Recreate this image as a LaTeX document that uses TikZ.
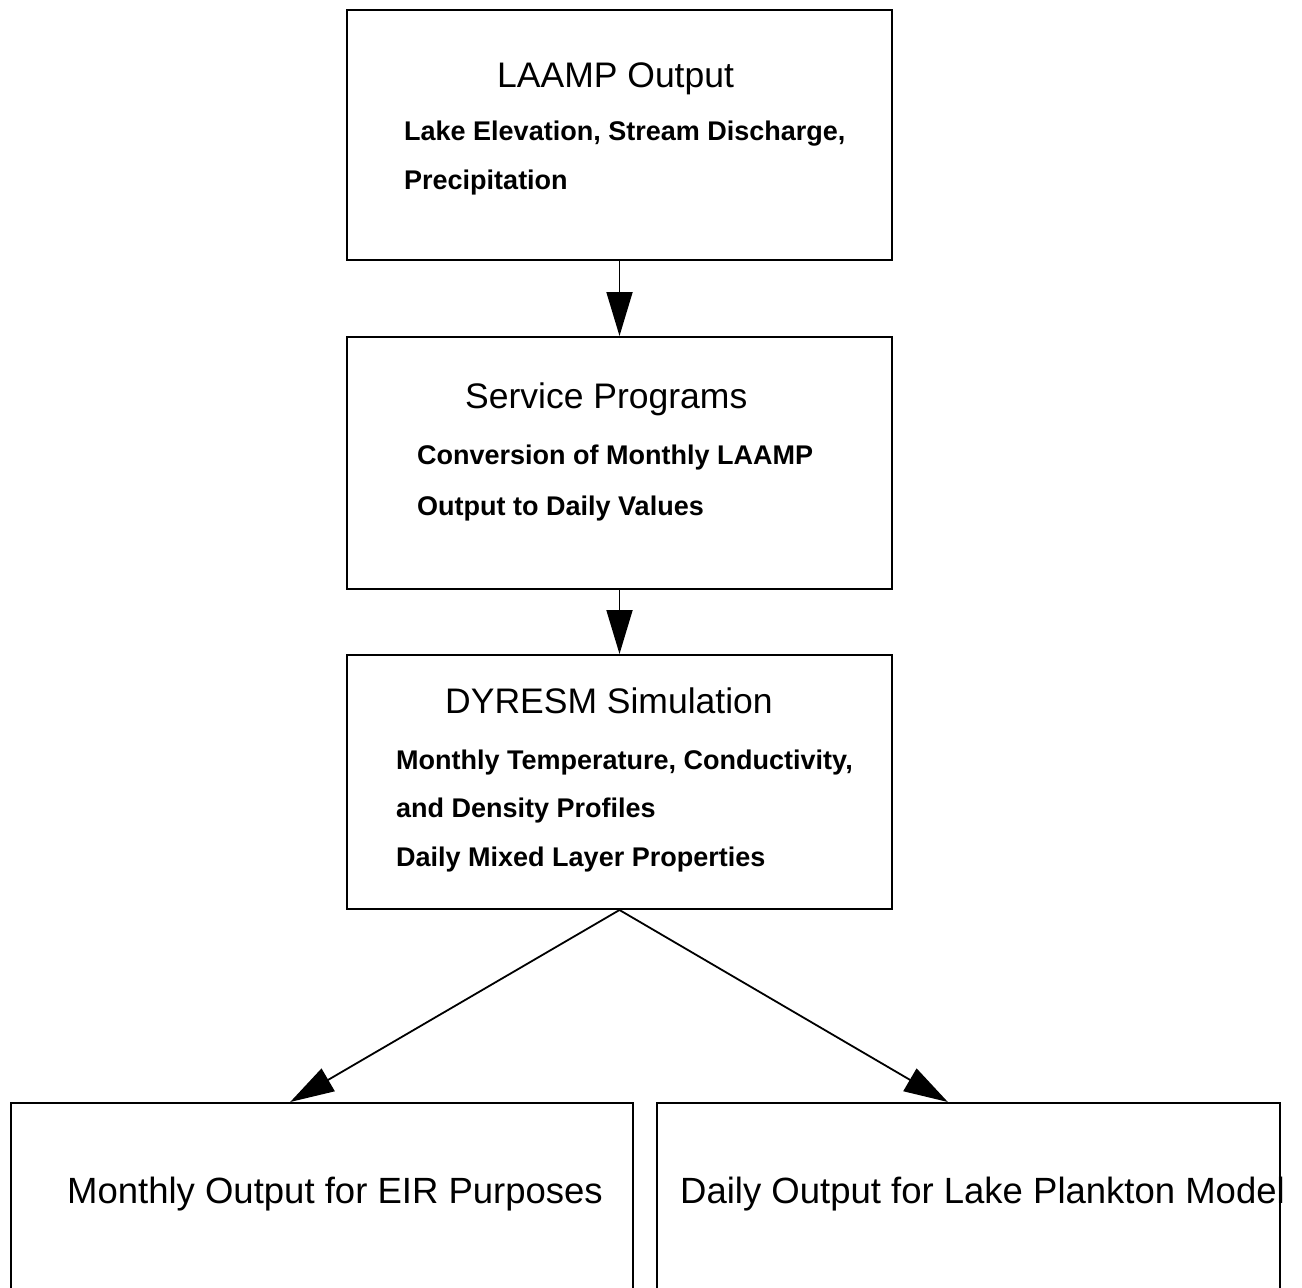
\documentclass[tikz,border=0pt]{standalone}
\usepackage{fontspec}
\setmainfont{Liberation Sans}
\usetikzlibrary{arrows.meta,calc}
\tikzset{
  box/.style={draw=black, line width=2pt, inner sep=0pt},
  ttl/.style={anchor=base west, inner sep=0pt, font=\fontsize{35.5}{39}\selectfont},
  bodytxt/.style={anchor=base west, inner sep=0pt, font=\fontsize{27}{30}\selectfont\bfseries},
  bigtxt/.style={anchor=base west, inner sep=0pt, font=\fontsize{36.5}{40}\selectfont},
  arr/.style={draw=black, line width=1.8pt, -{Triangle[length=44pt,width=26pt]}, shorten >=0pt}
}
\begin{document}
\begin{tikzpicture}[x=1pt,y=-1pt]
\useasboundingbox (0,0) rectangle (1302,1288);
\fill[white] (0,0) rectangle (1302,1288);
% boxes
\node[box, minimum width=545pt, minimum height=250pt] (b1) at (619.5,135) {};
\node[box, minimum width=545pt, minimum height=252pt] (b2) at (619.5,463) {};
\node[box, minimum width=545pt, minimum height=254pt] (b3) at (619.5,782) {};
\node[box, minimum width=622pt, minimum height=210pt] (b4) at (322,1208) {};
\node[box, minimum width=623pt, minimum height=210pt] (b5) at (968.5,1208) {};
% texts
\node[ttl] (t1) at (497,87) {LAAMP Output};
\node[bodytxt] (t1a) at (404,140) {Lake Elevation, Stream Discharge,};
\node[bodytxt] (t1b) at (404,189) {Precipitation};
\node[ttl] (t2) at (465,408) {Service Programs};
\node[bodytxt] (t2a) at (417,464) {Conversion of Monthly LAAMP};
\node[bodytxt] (t2b) at (417,515) {Output to Daily Values};
\node[ttl] (t3) at (445,713) {DYRESM Simulation};
\node[bodytxt] (t3a) at (396,769) {Monthly Temperature, Conductivity,};
\node[bodytxt] (t3b) at (396,817) {and Density Profiles};
\node[bodytxt] (t3c) at (396,866) {Daily Mixed Layer Properties};
\node[bigtxt] (t4) at (67,1203) {Monthly Output for EIR Purposes};
\node[bigtxt] (t5) at (680,1203) {Daily Output for Lake Plankton Model};
% connectors
\coordinate (p4) at ($(b4.north west)!0.449!(b4.north east)$);
\coordinate (p5) at ($(b5.north west)!0.467!(b5.north east)$);
\draw[arr] (b1.south) -- (b2.north);
\draw[arr] (b2.south) -- (b3.north);
\draw[arr] (b3.south) -- (p4);
\draw[arr] (b3.south) -- (p5);
\end{tikzpicture}
\end{document}
